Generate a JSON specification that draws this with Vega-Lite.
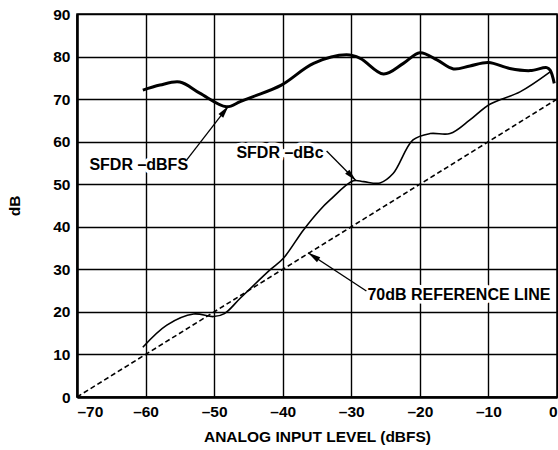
{
  "$schema": "https://vega.github.io/schema/vega-lite/v6.json",
  "width": 480,
  "height": 383,
  "autosize": {"type": "none"},
  "padding": {"left": 77, "top": 14, "right": 1, "bottom": 53},
  "background": "white",
  "config": {
    "view": {"stroke": "black", "strokeWidth": 1.5},
    "axis": {
      "labelFont": "Liberation Sans", "labelFontWeight": "bold", "labelFontSize": 15.5, "labelColor": "black",
      "titleFont": "Liberation Sans", "titleFontWeight": "bold", "titleFontSize": 15.5, "titleColor": "black",
      "gridColor": "black", "gridWidth": 1.4, "gridOpacity": 1,
      "domainColor": "black", "domainWidth": 2.5, "tickSize": 0, "ticks": false
    },
    "text": {"font": "Liberation Sans", "fontWeight": "bold", "fontSize": 16}
  },
  "datasets": {
    "curves": [
      {"series": "SFDR -dBFS", "x": -60.4, "y": 72.1},
      {"series": "SFDR -dBFS", "x": -57.9, "y": 73.3},
      {"series": "SFDR -dBFS", "x": -55.0, "y": 74.0},
      {"series": "SFDR -dBFS", "x": -52.1, "y": 71.4},
      {"series": "SFDR -dBFS", "x": -48.2, "y": 68.2},
      {"series": "SFDR -dBFS", "x": -46.2, "y": 69.4},
      {"series": "SFDR -dBFS", "x": -44.3, "y": 70.6},
      {"series": "SFDR -dBFS", "x": -40.2, "y": 73.3},
      {"series": "SFDR -dBFS", "x": -35.5, "y": 78.4},
      {"series": "SFDR -dBFS", "x": -30.7, "y": 80.4},
      {"series": "SFDR -dBFS", "x": -28.7, "y": 79.6},
      {"series": "SFDR -dBFS", "x": -25.3, "y": 75.9},
      {"series": "SFDR -dBFS", "x": -22.4, "y": 78.4},
      {"series": "SFDR -dBFS", "x": -20.0, "y": 80.9},
      {"series": "SFDR -dBFS", "x": -17.5, "y": 79.2},
      {"series": "SFDR -dBFS", "x": -15.1, "y": 77.1},
      {"series": "SFDR -dBFS", "x": -12.7, "y": 77.8},
      {"series": "SFDR -dBFS", "x": -10.0, "y": 78.6},
      {"series": "SFDR -dBFS", "x": -6.9, "y": 77.2},
      {"series": "SFDR -dBFS", "x": -3.9, "y": 76.7},
      {"series": "SFDR -dBFS", "x": -1.5, "y": 77.4},
      {"series": "SFDR -dBFS", "x": -1.0, "y": 76.8},
      {"series": "SFDR -dBFS", "x": -0.4, "y": 73.7},
      {"series": "SFDR -dBc", "x": -60.4, "y": 11.7},
      {"series": "SFDR -dBc", "x": -56.9, "y": 16.9},
      {"series": "SFDR -dBc", "x": -53.0, "y": 19.5},
      {"series": "SFDR -dBc", "x": -50.1, "y": 18.9},
      {"series": "SFDR -dBc", "x": -48.5, "y": 19.6},
      {"series": "SFDR -dBc", "x": -46.2, "y": 23.2},
      {"series": "SFDR -dBc", "x": -41.9, "y": 29.8},
      {"series": "SFDR -dBc", "x": -39.9, "y": 32.6},
      {"series": "SFDR -dBc", "x": -37.0, "y": 39.2},
      {"series": "SFDR -dBc", "x": -34.6, "y": 43.9},
      {"series": "SFDR -dBc", "x": -33.1, "y": 46.3},
      {"series": "SFDR -dBc", "x": -29.7, "y": 50.8},
      {"series": "SFDR -dBc", "x": -28.2, "y": 50.6},
      {"series": "SFDR -dBc", "x": -25.8, "y": 50.3},
      {"series": "SFDR -dBc", "x": -23.9, "y": 52.5},
      {"series": "SFDR -dBc", "x": -21.0, "y": 60.4},
      {"series": "SFDR -dBc", "x": -18.5, "y": 61.9},
      {"series": "SFDR -dBc", "x": -15.6, "y": 61.9},
      {"series": "SFDR -dBc", "x": -12.7, "y": 65.1},
      {"series": "SFDR -dBc", "x": -9.8, "y": 68.8},
      {"series": "SFDR -dBc", "x": -5.4, "y": 71.7},
      {"series": "SFDR -dBc", "x": -1.0, "y": 76.4},
      {"series": "70dB REFERENCE LINE", "x": -70, "y": 0},
      {"series": "70dB REFERENCE LINE", "x": 0, "y": 70}
    ],
    "notes": [
      {"label": "SFDR –dBFS", "tx": -61.0, "ty": 54.5, "x": -54.0, "y": 55.7, "x2": -47.9, "y2": 68.4},
      {"label": "SFDR –dBc", "tx": -40.4, "ty": 57.3, "x": -33.6, "y": 57.8, "x2": -29.3, "y2": 50.8},
      {"label": "70dB REFERENCE LINE", "tx": -14.3, "ty": 24.0, "x": -27.8, "y": 24.9, "x2": -36.3, "y2": 33.9}
    ]
  },
  "layer": [
    {
      "data": {"name": "curves"},
      "transform": [{"filter": "datum.series === 'SFDR -dBFS'"}],
      "mark": {"type": "line", "interpolate": "catmull-rom", "color": "black", "strokeWidth": 3},
      "encoding": {
        "x": {"field": "x", "type": "quantitative", "scale": {"domain": [-70, 0], "nice": false, "zero": false},
          "axis": {"values": [-70, -60, -50, -40, -30, -20, -10, 0], "grid": true, "title": "ANALOG INPUT LEVEL (dBFS)", "labelPadding": 7, "titlePadding": 10,
            "labelExpr": "datum.value < 0 ? '–' + abs(datum.value) : '' + datum.value"}},
        "y": {"field": "y", "type": "quantitative", "scale": {"domain": [0, 90], "nice": false},
          "axis": {"values": [0, 10, 20, 30, 40, 50, 60, 70, 80, 90], "grid": true, "title": "dB", "labelPadding": 7, "titlePadding": 30}}
      }
    },
    {
      "data": {"name": "curves"},
      "transform": [{"filter": "datum.series === 'SFDR -dBc'"}],
      "mark": {"type": "line", "interpolate": "catmull-rom", "color": "black", "strokeWidth": 1.6},
      "encoding": {"x": {"field": "x", "type": "quantitative"}, "y": {"field": "y", "type": "quantitative"}}
    },
    {
      "data": {"name": "curves"},
      "transform": [{"filter": "datum.series === '70dB REFERENCE LINE'"}],
      "mark": {"type": "line", "color": "black", "strokeWidth": 1.6, "strokeDash": [5, 3]},
      "encoding": {"x": {"field": "x", "type": "quantitative"}, "y": {"field": "y", "type": "quantitative"}}
    },
    {
      "data": {"name": "notes"},
      "mark": {"type": "text", "color": "white", "stroke": "white", "strokeWidth": 7, "strokeJoin": "round"},
      "encoding": {"x": {"field": "tx", "type": "quantitative"}, "y": {"field": "ty", "type": "quantitative"}, "text": {"field": "label"}}
    },
    {
      "data": {"name": "notes"},
      "mark": {"type": "text", "color": "black"},
      "encoding": {"x": {"field": "tx", "type": "quantitative"}, "y": {"field": "ty", "type": "quantitative"}, "text": {"field": "label"}}
    },
    {
      "data": {"name": "notes"},
      "mark": {"type": "rule", "color": "black", "strokeWidth": 1.3},
      "encoding": {"x": {"field": "x", "type": "quantitative"}, "y": {"field": "y", "type": "quantitative"}, "x2": {"field": "x2"}, "y2": {"field": "y2"}}
    },
    {
      "data": {"name": "notes"},
      "transform": [{"filter": "datum.label === 'SFDR –dBFS'"}],
      "mark": {"type": "point", "shape": "M0,0L-0.4,1.7L0.4,1.7Z", "filled": true, "color": "black", "opacity": 1, "size": 220, "angle": 37.6},
      "encoding": {"x": {"field": "x2", "type": "quantitative"}, "y": {"field": "y2", "type": "quantitative"}}
    },
    {
      "data": {"name": "notes"},
      "transform": [{"filter": "datum.label === 'SFDR –dBc'"}],
      "mark": {"type": "point", "shape": "M0,0L-0.4,1.7L0.4,1.7Z", "filled": true, "color": "black", "opacity": 1, "size": 220, "angle": 135.7},
      "encoding": {"x": {"field": "x2", "type": "quantitative"}, "y": {"field": "y2", "type": "quantitative"}}
    },
    {
      "data": {"name": "notes"},
      "transform": [{"filter": "datum.label === '70dB REFERENCE LINE'"}],
      "mark": {"type": "point", "shape": "M0,0L-0.4,1.7L0.4,1.7Z", "filled": true, "color": "black", "opacity": 1, "size": 220, "angle": 303.3},
      "encoding": {"x": {"field": "x2", "type": "quantitative"}, "y": {"field": "y2", "type": "quantitative"}}
    }
  ]
}
